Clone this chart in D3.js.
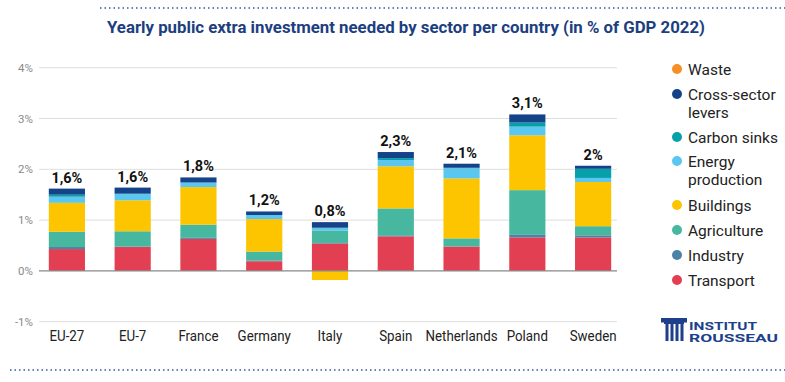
<!DOCTYPE html>
<html>
<head>
<meta charset="utf-8">
<script src="https://cdn.jsdelivr.net/npm/d3@7"></script>
<style>
  body { margin: 0; background: #fff; }
  svg { display: block; font-family: Roboto, "Noto Sans", sans-serif; }
</style>
</head>
<body>
<svg id="chart" width="785" height="382"></svg>
<script>
// data (% of GDP 2022)
const countries = ["EU-27", "EU-7", "France", "Germany", "Italy", "Spain", "Netherlands", "Poland", "Sweden"];
const sectors = ["Transport", "Industry", "Agriculture", "Buildings", "Energy production", "Carbon sinks", "Cross-sector levers", "Waste"];
const transport   = [0.43, 0.47, 0.63, 0.19, 0.54, 0.68, 0.48, 0.66, 0.66];
const industry    = [0.04, 0.01, 0.02, 0.01, 0.01, 0.02, 0.00, 0.06, 0.04];
const agriculture = [0.30, 0.30, 0.26, 0.18, 0.24, 0.53, 0.16, 0.87, 0.18];
const buildings   = [0.57, 0.61, 0.74, 0.64, -0.18, 0.83, 1.18, 1.08, 0.87];
const energy      = [0.12, 0.12, 0.09, 0.08, 0.05, 0.12, 0.20, 0.17, 0.08];
const carbonSinks = [0.04, 0.01, 0.00, 0.00, 0.01, 0.04, 0.01, 0.08, 0.18];
const crossSector = [0.12, 0.12, 0.10, 0.07, 0.11, 0.12, 0.08, 0.16, 0.06];
const waste       = [0, 0, 0, 0, 0, 0, 0, 0, 0];
const totals = ["1,6%", "1,6%", "1,8%", "1,2%", "0,8%", "2,3%", "2,1%", "3,1%", "2%"];
const yTicks = [-1, 0, 1, 2, 3, 4];

const series = [transport, industry, agriculture, buildings, energy, carbonSinks, crossSector, waste];
const colors = ["#e33f52", "#4b82a6", "#47b7a0", "#fdc400", "#5bc6f0", "#06a0ab", "#15438a", "#f58f26"];

const svg = d3.select("#chart");

const x = d3.scaleBand().domain(countries).range([34, 626]).paddingInner(0.45).paddingOuter(0.225);
const y = d3.scaleLinear().domain([-1, 4]).range([321.7, 67.7]);

// dotted frame lines
svg.append("line").attr("x1", 100).attr("x2", 785).attr("y1", 8).attr("y2", 8)
  .attr("stroke", "#2f5aa8").attr("stroke-width", 1.5).attr("stroke-dasharray", "1.5,3");
svg.append("line").attr("x1", 10).attr("x2", 785).attr("y1", 370).attr("y2", 370)
  .attr("stroke", "#2f5aa8").attr("stroke-width", 1.5).attr("stroke-dasharray", "1.5,3");

// title
svg.append("text").attr("x", 406).attr("y", 33).attr("text-anchor", "middle")
  .attr("font-size", 17).attr("font-weight", "bold").attr("fill", "#1d3f80")
  .attr("textLength", 598).attr("lengthAdjust", "spacingAndGlyphs")
  .text("Yearly public extra investment needed by sector per country (in % of GDP 2022)");

// grid
svg.append("g").selectAll("line").data(yTicks.filter(d => d !== 0)).join("line")
  .attr("x1", 39).attr("x2", 617)
  .attr("y1", d => y(d)).attr("y2", d => y(d))
  .attr("stroke", "#dedede").attr("stroke-width", 1);

svg.append("g").selectAll("text").data(yTicks).join("text")
  .attr("x", 33).attr("y", d => y(d) + 4).attr("text-anchor", "end")
  .attr("font-size", 11.5).attr("fill", "#8a8a8a")
  .text(d => d + "%");

// stacked bars (positives stack up, negatives down)
countries.forEach((c, i) => {
  let pos = 0, neg = 0;
  series.forEach((s, k) => {
    const v = s[i];
    if (v === 0) return;
    let y0, y1;
    if (v > 0) { y0 = pos; y1 = pos + v; pos = y1; }
    else { y0 = neg + v; y1 = neg; neg = y0; }
    svg.append("rect")
      .attr("x", x(c)).attr("width", x.bandwidth())
      .attr("y", y(y1)).attr("height", y(y0) - y(y1))
      .attr("fill", colors[k]);
  });
  svg.append("text")
    .attr("x", x(c) + x.bandwidth() / 2).attr("y", y(pos) - 6)
    .attr("text-anchor", "middle").attr("font-size", 14.5).attr("font-weight", "bold")
    .attr("fill", "#111").text(totals[i]);
});

// zero line
svg.append("line").attr("x1", 39).attr("x2", 617).attr("y1", y(0)).attr("y2", y(0))
  .attr("stroke", "#888").attr("stroke-width", 1.2);

// country labels (slightly condensed like the original)
svg.append("g").selectAll("text").data(countries).join("text")
  .attr("text-anchor", "middle").attr("font-size", 15.5).attr("fill", "#222")
  .attr("transform", d => `translate(${x(d) + x.bandwidth() / 2},341) scale(0.86,1)`)
  .text(d => d);

// legend
const legendItems = [
  { k: 7, lines: ["Waste"], y: 69 },
  { k: 6, lines: ["Cross-sector", "levers"], y: 94 },
  { k: 5, lines: ["Carbon sinks"], y: 137 },
  { k: 4, lines: ["Energy", "production"], y: 161 },
  { k: 3, lines: ["Buildings"], y: 205 },
  { k: 2, lines: ["Agriculture"], y: 230 },
  { k: 1, lines: ["Industry"], y: 255 },
  { k: 0, lines: ["Transport"], y: 280 }
];
const lg = svg.append("g");
legendItems.forEach(it => {
  lg.append("circle").attr("cx", 677).attr("cy", it.y).attr("r", 5).attr("fill", colors[it.k]);
  const t = lg.append("text").attr("x", 688).attr("y", it.y + 5.5)
    .attr("font-size", 15.5).attr("fill", "#222");
  it.lines.forEach((l, j) => t.append("tspan").attr("x", 688).attr("dy", j ? 18 : 0).text(l));
});

// logo
const logo = svg.append("g").attr("fill", "#1d3f8c");
logo.append("rect").attr("x", 661).attr("y", 318).attr("width", 26).attr("height", 4.5);
logo.append("rect").attr("x", 664).attr("y", 322).attr("width", 20).attr("height", 2);
d3.range(4).forEach(j => {
  logo.append("rect").attr("x", 665.5 + j * 5).attr("y", 324).attr("width", 3).attr("height", 17);
});
logo.append("text").attr("x", 689).attr("y", 329.5).attr("font-size", 11).attr("font-weight", "bold")
  .attr("textLength", 68).attr("lengthAdjust", "spacingAndGlyphs").text("INSTITUT");
logo.append("text").attr("x", 689).attr("y", 342).attr("font-size", 11).attr("font-weight", "bold")
  .attr("textLength", 89).attr("lengthAdjust", "spacingAndGlyphs").text("ROUSSEAU");
</script>
</body>
</html>
